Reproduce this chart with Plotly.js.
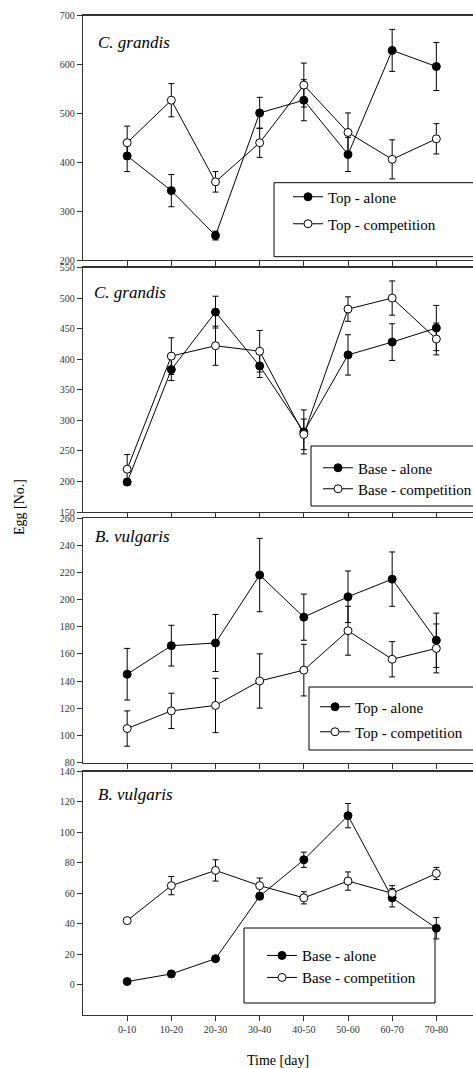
<!DOCTYPE html>
<html>
<head>
<meta charset="utf-8">
<script src="https://cdn.plot.ly/plotly-3.0.1.min.js"></script>
<style>html,body{margin:0;padding:0;background:#fff;overflow:hidden;}#chart{width:473px;height:1068px;}</style>
</head>
<body>
<div id="chart"></div>
<script>
// ---- data ----
const categories = ['0-10','10-20','20-30','30-40','40-50','50-60','60-70','70-80'];

const cgTopAlone     = [413, 342, 250, 501, 527, 416, 629, 596];
const cgTopAloneErr  = [32, 33, 9, 32, 42, 35, 43, 49];
const cgTopComp      = [440, 527, 360, 440, 558, 461, 406, 448];
const cgTopCompErr   = [34, 34, 21, 30, 45, 40, 40, 31];

const cgBaseAlone    = [199, 383, 477, 389, 281, 407, 428, 451];
const cgBaseAloneErr = [5, 18, 26, 19, 36, 33, 30, 37];
const cgBaseComp     = [220, 405, 422, 413, 277, 482, 500, 433];
const cgBaseCompErr  = [24, 30, 32, 34, 25, 20, 28, 26];

const bvTopAlone     = [145, 166, 168, 218, 187, 202, 215, 170];
const bvTopAloneErr  = [19, 15, 21, 27, 17, 19, 20, 20];
const bvTopComp      = [105, 118, 122, 140, 148, 177, 156, 164];
const bvTopCompErr   = [13, 13, 20, 20, 19, 18, 13, 18];

const bvBaseAlone    = [2, 7, 17, 58, 82, 111, 57, 37];
const bvBaseAloneErr = [1, 2, 1, 2, 5, 8, 6, 7];
const bvBaseComp     = [42, 65, 75, 65, 57, 68, 60, 73];
const bvBaseCompErr  = [1, 6, 7, 5, 4, 6, 5, 4];

const seriesNames = ['Top - alone', 'Top - competition', 'Base - alone', 'Base - competition'];
const speciesLabels = ['C. grandis', 'C. grandis', 'B. vulgaris', 'B. vulgaris'];
const xTitle = 'Time [day]';
const yTitle = 'Egg [No.]';

// ---- layout helpers ----
const W = 473, H = 1068, ML = 83, MR = 0, MT = 15, MB = 53;
const PW = W - ML - MR, PH = H - MT - MB;
const px2x = p => (p - ML) / PW;
const px2y = p => (MT + PH - p) / PH;

const FONT = 'Liberation Serif, Times New Roman, serif';
const AX = '#333';

const panels = [
  {alone: cgTopAlone, aloneErr: cgTopAloneErr, comp: cgTopComp, compErr: cgTopCompErr, names: [seriesNames[0], seriesNames[1]],
   top: 15.7, bottom: 260, range: [200, 700], dtick: 100,
   box: [274, 182.7, 600, 256.7], items: [285, 197, 224], label: [96, 42]},
  {alone: cgBaseAlone, aloneErr: cgBaseAloneErr, comp: cgBaseComp, compErr: cgBaseCompErr, names: [seriesNames[2], seriesNames[3]],
   top: 267.5, bottom: 512, range: [150, 550], dtick: 50,
   box: [311, 446, 600, 506], items: [315, 468, 489], label: [92, 292]},
  {alone: bvTopAlone, aloneErr: bvTopAloneErr, comp: bvTopComp, compErr: bvTopCompErr, names: [seriesNames[0], seriesNames[1]],
   top: 518, bottom: 762.5, range: [80, 260], dtick: 20,
   box: [309, 687, 600, 750], items: [312, 707, 732], label: [93, 536]},
  {alone: bvBaseAlone, aloneErr: bvBaseAloneErr, comp: bvBaseComp, compErr: bvBaseCompErr, names: [seriesNames[2], seriesNames[3]],
   top: 771.5, bottom: 1015, range: [-20, 140], dtick: 20,
   box: [244, 928, 435, 1003], items: [259, 955.7, 977.7], label: [96, 794]}
];

const traces = [];
const layout = {
  width: W, height: H,
  margin: {l: ML, r: MR, t: MT, b: MB, pad: 0, autoexpand: false},
  paper_bgcolor: '#fff', plot_bgcolor: 'rgba(0,0,0,0)',
  showlegend: true,
  font: {family: FONT, color: '#000'},
  shapes: [], annotations: []
};

let legendIdx = 0;
panels.forEach((p, i) => {
  const n = i + 1;
  const xa = n === 1 ? 'x' : 'x' + n;
  const ya = n === 1 ? 'y' : 'y' + n;
  const xKey = n === 1 ? 'xaxis' : 'xaxis' + n;
  const yKey = n === 1 ? 'yaxis' : 'yaxis' + n;

  layout[xKey] = {
    domain: [0, 1], anchor: ya, type: 'category',
    range: [-1.0, 7.83], showgrid: false, zeroline: false,
    showline: true, linecolor: AX, linewidth: 1.3, mirror: true,
    ticks: 'outside', ticklen: 5, tickwidth: 1, tickcolor: AX,
    showticklabels: n === 4, automargin: false,
    tickfont: {family: FONT, size: 10, color: AX}
  };
  if (n === 4) {
    layout[xKey].title = {text: xTitle, font: {family: FONT, size: 14, color: '#000'}, standoff: 21};
  }
  layout[yKey] = {
    domain: [px2y(p.bottom), px2y(p.top)], anchor: xa,
    range: p.range, dtick: p.dtick, tick0: 0,
    showgrid: false, zeroline: false, automargin: false,
    showline: true, linecolor: AX, linewidth: 1.3, mirror: false,
    ticks: 'outside', ticklen: 5, tickwidth: 1, tickcolor: AX,
    tickfont: {family: FONT, size: 10, color: AX}
  };
  if (n === 4) { layout[yKey].tickvals = [0, 20, 40, 60, 80, 100, 120, 140]; }

  const mk = (y, err, filled, name, li) => ({
    type: 'scatter', mode: 'lines+markers', x: categories, y: y, name: name,
    xaxis: xa, yaxis: ya, legend: li === 1 ? 'legend' : 'legend' + li,
    line: {color: '#000', width: 1},
    marker: {symbol: 'circle', size: 8, color: filled ? '#000' : '#fff', line: {color: '#000', width: 1}},
    error_y: {type: 'data', array: err, visible: true, color: '#000', thickness: 1, width: 3},
    cliponaxis: false
  });

  // legend box
  layout.shapes.push({type: 'rect', xref: 'paper', yref: 'paper',
    x0: px2x(p.box[0]), x1: px2x(p.box[2]), y0: px2y(p.box[3]), y1: px2y(p.box[1]),
    line: {color: '#000', width: 1}, fillcolor: 'rgba(255,255,255,0)', layer: 'above'});

  [[p.alone, p.aloneErr, true, p.names[0], p.items[1]], [p.comp, p.compErr, false, p.names[1], p.items[2]]].forEach(s => {
    legendIdx++;
    traces.push(mk(s[0], s[1], s[2], s[3], legendIdx));
    const lk = legendIdx === 1 ? 'legend' : 'legend' + legendIdx;
    layout[lk] = {
      x: px2x(p.items[0] + 3), y: px2y(s[4]), xanchor: 'left', yanchor: 'middle',
      xref: 'paper', yref: 'paper', bgcolor: 'rgba(0,0,0,0)', borderwidth: 0,
      font: {family: FONT, size: 15, color: '#000'}
    };
  });

  layout.annotations.push({
    xref: 'paper', yref: 'paper', x: px2x(p.label[0]), y: px2y(p.label[1]),
    xanchor: 'left', yanchor: 'middle', showarrow: false,
    text: '<i>' + speciesLabels[i] + '</i>',
    font: {family: FONT, size: 17, color: '#000'}
  });
});

layout.annotations.push({
  xref: 'paper', yref: 'paper', x: px2x(19), y: px2y(507), xanchor: 'center', yanchor: 'middle',
  showarrow: false, textangle: -90, text: yTitle, font: {family: FONT, size: 14, color: '#000'}
});

Plotly.newPlot('chart', traces, layout, {displayModeBar: false, staticPlot: true});
</script>
</body>
</html>
